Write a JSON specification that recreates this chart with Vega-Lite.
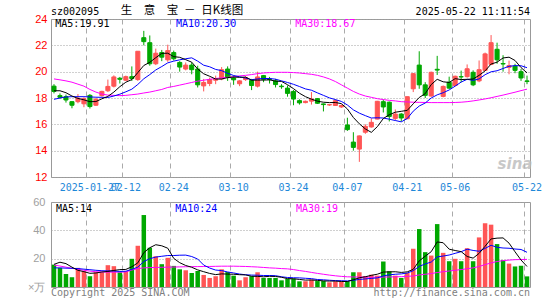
{
  "$schema": "https://vega.github.io/schema/vega-lite/v6.json",
  "padding": {"left": 0, "top": 4, "right": 0, "bottom": 0},
  "background": "white",
  "spacing": 0,
  "config": {
    "view": {"stroke": "#999999", "strokeWidth": 1},
    "axis": {"labelFont": "Liberation Sans", "labelFontSize": 11, "title": null, "labelOverlap": false}
  },
  "datasets": {
    "k": [
{"d":"2025-01-17","o":18.9,"h":19.05,"l":18.35,"c":18.5,"v":15.8,"m5":18.55,"m10":17.9,"m30":19.45,"vm5":16.0,"vm10":13.5,"vm30":15.5},
{"d":"2025-01-20","o":18.18,"h":18.35,"l":17.95,"c":18.05,"v":13.5,"m5":18.55,"m10":18.0,"m30":19.38,"vm5":17.5,"vm10":13.5,"vm30":14.8},
{"d":"2025-01-21","o":18.1,"h":18.26,"l":17.65,"c":17.85,"v":9.2,"m5":18.4,"m10":18.08,"m30":19.3,"vm5":16.5,"vm10":13.3,"vm30":14.0},
{"d":"2025-01-22","o":17.72,"h":17.75,"l":17.22,"c":17.45,"v":6.9,"m5":18.15,"m10":18.1,"m30":19.2,"vm5":14.0,"vm10":13.2,"vm30":13.2},
{"d":"2025-01-23","o":17.72,"h":18.3,"l":17.6,"c":17.98,"v":13.5,"m5":17.97,"m10":18.1,"m30":19.05,"vm5":11.78,"vm10":13.0,"vm30":12.5},
{"d":"2025-01-24","o":17.56,"h":18.05,"l":17.3,"c":17.95,"v":11.1,"m5":17.86,"m10":18.1,"m30":18.9,"vm5":10.84,"vm10":12.6,"vm30":11.8},
{"d":"2025-01-27","o":18.2,"h":18.3,"l":17.2,"c":17.35,"v":7.6,"m5":17.72,"m10":18.08,"m30":18.65,"vm5":9.66,"vm10":12.2,"vm30":11.2},
{"d":"2025-02-05","o":17.45,"h":18.0,"l":17.4,"c":17.9,"v":10.4,"m5":17.73,"m10":18.06,"m30":18.45,"vm5":9.9,"vm10":11.8,"vm30":10.8},
{"d":"2025-02-06","o":18.18,"h":18.55,"l":18.1,"c":18.5,"v":10.4,"m5":17.94,"m10":18.05,"m30":18.3,"vm5":10.6,"vm10":11.5,"vm30":10.6},
{"d":"2025-02-07","o":18.55,"h":19.4,"l":18.45,"c":18.88,"v":15.4,"m5":18.12,"m10":18.04,"m30":18.22,"vm5":10.98,"vm10":11.38,"vm30":10.5},
{"d":"2025-02-10","o":18.9,"h":19.72,"l":18.8,"c":19.6,"v":14.7,"m5":18.45,"m10":18.15,"m30":18.2,"vm5":11.7,"vm10":11.27,"vm30":10.5},
{"d":"2025-02-11","o":19.5,"h":19.6,"l":19.1,"c":19.42,"v":10.4,"m5":18.86,"m10":18.29,"m30":18.18,"vm5":12.26,"vm10":10.96,"vm30":10.5},
{"d":"2025-02-12","o":19.35,"h":19.7,"l":19.3,"c":19.62,"v":11.1,"m5":19.2,"m10":18.47,"m30":18.2,"vm5":12.4,"vm10":11.15,"vm30":10.6},
{"d":"2025-02-13","o":19.62,"h":20.4,"l":19.3,"c":19.48,"v":19.9,"m5":19.4,"m10":18.67,"m30":18.25,"vm5":14.3,"vm10":12.45,"vm30":12.0},
{"d":"2025-02-14","o":19.4,"h":21.55,"l":19.3,"c":21.55,"v":29.1,"m5":19.93,"m10":19.03,"m30":18.3,"vm5":17.04,"vm10":14.01,"vm30":13.0},
{"d":"2025-02-17","o":22.58,"h":23.1,"l":22.0,"c":22.28,"v":50.8,"m5":20.47,"m10":19.46,"m30":18.38,"vm5":24.26,"vm10":17.98,"vm30":13.5},
{"d":"2025-02-18","o":22.2,"h":22.75,"l":20.45,"c":20.6,"v":27.7,"m5":20.71,"m10":19.78,"m30":18.45,"vm5":27.72,"vm10":19.99,"vm30":13.7},
{"d":"2025-02-19","o":20.6,"h":21.75,"l":20.5,"c":21.4,"v":21.7,"m5":21.06,"m10":20.13,"m30":18.55,"vm5":29.84,"vm10":21.12,"vm30":13.8},
{"d":"2025-02-20","o":21.45,"h":21.65,"l":20.8,"c":21.1,"v":16.1,"m5":21.39,"m10":20.39,"m30":18.65,"vm5":29.08,"vm10":21.69,"vm30":13.9},
{"d":"2025-02-21","o":20.9,"h":22.05,"l":20.75,"c":21.6,"v":20.6,"m5":21.4,"m10":20.67,"m30":18.8,"vm5":27.38,"vm10":22.21,"vm30":14.0},
{"d":"2025-02-24","o":21.45,"h":21.6,"l":20.85,"c":20.98,"v":14.9,"m5":21.14,"m10":20.8,"m30":18.88,"vm5":20.2,"vm10":22.23,"vm30":14.1},
{"d":"2025-02-25","o":20.7,"h":20.8,"l":20.0,"c":20.35,"v":12.5,"m5":21.09,"m10":20.9,"m30":18.98,"vm5":17.16,"vm10":22.44,"vm30":14.2},
{"d":"2025-02-26","o":20.2,"h":20.7,"l":20.1,"c":20.5,"v":11.8,"m5":20.91,"m10":20.98,"m30":19.08,"vm5":15.18,"vm10":22.51,"vm30":14.3},
{"d":"2025-02-27","o":20.5,"h":20.7,"l":19.8,"c":20.15,"v":9.9,"m5":20.72,"m10":21.05,"m30":19.18,"vm5":13.94,"vm10":21.51,"vm30":14.35},
{"d":"2025-02-28","o":20.2,"h":20.45,"l":18.8,"c":19.0,"v":11.3,"m5":20.2,"m10":20.8,"m30":19.28,"vm5":12.08,"vm10":19.73,"vm30":14.4},
{"d":"2025-03-03","o":18.92,"h":19.45,"l":18.5,"c":19.18,"v":8.5,"m5":19.84,"m10":20.49,"m30":19.35,"vm5":10.8,"vm10":15.5,"vm30":14.45},
{"d":"2025-03-04","o":19.1,"h":19.55,"l":18.9,"c":19.4,"v":6.4,"m5":19.65,"m10":20.37,"m30":19.42,"vm5":9.58,"vm10":13.37,"vm30":14.5},
{"d":"2025-03-05","o":19.35,"h":19.7,"l":19.05,"c":19.45,"v":7.6,"m5":19.44,"m10":20.17,"m30":19.48,"vm5":8.74,"vm10":11.96,"vm30":14.6},
{"d":"2025-03-06","o":19.45,"h":20.35,"l":19.35,"c":20.15,"v":12.5,"m5":19.44,"m10":20.08,"m30":19.53,"vm5":9.26,"vm10":11.6,"vm30":14.7},
{"d":"2025-03-07","o":20.2,"h":20.4,"l":19.3,"c":19.55,"v":10.6,"m5":19.55,"m10":19.87,"m30":19.57,"vm5":9.12,"vm10":10.6,"vm30":14.7},
{"d":"2025-03-10","o":19.52,"h":19.7,"l":19.0,"c":19.38,"v":8.0,"m5":19.59,"m10":19.71,"m30":19.62,"vm5":9.02,"vm10":9.91,"vm30":14.7},
{"d":"2025-03-11","o":19.08,"h":19.35,"l":18.9,"c":19.3,"v":4.7,"m5":19.57,"m10":19.61,"m30":19.68,"vm5":8.68,"vm10":9.13,"vm30":14.6},
{"d":"2025-03-12","o":19.4,"h":19.65,"l":19.3,"c":19.55,"v":6.9,"m5":19.59,"m10":19.51,"m30":19.72,"vm5":8.54,"vm10":8.64,"vm30":14.5},
{"d":"2025-03-13","o":19.33,"h":19.45,"l":18.6,"c":18.95,"v":7.6,"m5":19.35,"m10":19.39,"m30":19.78,"vm5":7.56,"vm10":8.41,"vm30":14.3},
{"d":"2025-03-14","o":18.9,"h":20.0,"l":18.8,"c":19.6,"v":10.4,"m5":19.36,"m10":19.45,"m30":19.85,"vm5":7.52,"vm10":8.32,"vm30":14.1},
{"d":"2025-03-17","o":19.7,"h":19.75,"l":19.2,"c":19.42,"v":6.4,"m5":19.36,"m10":19.48,"m30":19.9,"vm5":7.2,"vm10":8.11,"vm30":13.8},
{"d":"2025-03-18","o":19.45,"h":19.6,"l":19.1,"c":19.4,"v":6.4,"m5":19.38,"m10":19.48,"m30":19.93,"vm5":7.54,"vm10":8.11,"vm30":13.5},
{"d":"2025-03-19","o":19.3,"h":19.45,"l":18.8,"c":19.02,"v":6.4,"m5":19.28,"m10":19.43,"m30":19.95,"vm5":7.44,"vm10":7.99,"vm30":13.3},
{"d":"2025-03-20","o":18.9,"h":19.05,"l":18.7,"c":18.86,"v":4.7,"m5":19.26,"m10":19.3,"m30":19.95,"vm5":6.86,"vm10":7.21,"vm30":13.0},
{"d":"2025-03-21","o":18.75,"h":18.95,"l":18.1,"c":18.35,"v":5.7,"m5":19.01,"m10":19.18,"m30":19.95,"vm5":5.92,"vm10":6.72,"vm30":12.8},
{"d":"2025-03-24","o":18.5,"h":18.6,"l":17.45,"c":17.92,"v":5.9,"m5":18.71,"m10":19.04,"m30":19.93,"vm5":5.82,"vm10":6.51,"vm30":12.3},
{"d":"2025-03-25","o":17.8,"h":17.9,"l":17.5,"c":17.63,"v":4.0,"m5":18.36,"m10":18.87,"m30":19.9,"vm5":5.34,"vm10":6.44,"vm30":11.6},
{"d":"2025-03-26","o":17.65,"h":17.8,"l":17.6,"c":17.75,"v":4.0,"m5":18.1,"m10":18.69,"m30":19.85,"vm5":4.86,"vm10":6.15,"vm30":11.0},
{"d":"2025-03-27","o":17.76,"h":18.45,"l":17.5,"c":17.92,"v":5.2,"m5":17.91,"m10":18.59,"m30":19.8,"vm5":4.96,"vm10":5.91,"vm30":10.3},
{"d":"2025-03-28","o":17.95,"h":18.0,"l":17.55,"c":17.6,"v":4.2,"m5":17.76,"m10":18.39,"m30":19.72,"vm5":4.66,"vm10":5.29,"vm30":9.6},
{"d":"2025-03-31","o":17.55,"h":17.58,"l":16.98,"c":17.5,"v":4.2,"m5":17.68,"m10":18.2,"m30":19.6,"vm5":4.32,"vm10":5.07,"vm30":9.0},
{"d":"2025-04-01","o":17.47,"h":17.55,"l":17.4,"c":17.5,"v":3.3,"m5":17.65,"m10":18.01,"m30":19.45,"vm5":4.18,"vm10":4.76,"vm30":8.4},
{"d":"2025-04-02","o":17.43,"h":17.9,"l":17.4,"c":17.8,"v":4.0,"m5":17.66,"m10":17.88,"m30":19.25,"vm5":4.18,"vm10":4.52,"vm30":7.9},
{"d":"2025-04-03","o":17.32,"h":17.5,"l":17.25,"c":17.43,"v":3.8,"m5":17.57,"m10":17.74,"m30":19.0,"vm5":3.9,"vm10":4.43,"vm30":7.5},
{"d":"2025-04-07","o":15.95,"h":16.5,"l":15.5,"c":15.6,"v":4.0,"m5":17.17,"m10":17.47,"m30":18.75,"vm5":3.86,"vm10":4.26,"vm30":7.2},
{"d":"2025-04-08","o":14.65,"h":15.4,"l":14.0,"c":14.25,"v":10.4,"m5":16.52,"m10":17.1,"m30":18.5,"vm5":5.1,"vm10":4.71,"vm30":7.1},
{"d":"2025-04-09","o":14.12,"h":15.15,"l":13.15,"c":15.12,"v":10.4,"m5":16.04,"m10":16.85,"m30":18.3,"vm5":6.52,"vm10":5.35,"vm30":7.0},
{"d":"2025-04-10","o":15.4,"h":16.0,"l":15.28,"c":15.85,"v":7.6,"m5":15.65,"m10":16.66,"m30":18.15,"vm5":7.24,"vm10":5.71,"vm30":7.0},
{"d":"2025-04-11","o":15.8,"h":16.45,"l":15.75,"c":16.15,"v":8.7,"m5":15.39,"m10":16.48,"m30":18.05,"vm5":8.22,"vm10":6.06,"vm30":6.9},
{"d":"2025-04-14","o":16.4,"h":17.78,"l":16.38,"c":17.75,"v":8.0,"m5":15.82,"m10":16.5,"m30":17.95,"vm5":9.02,"vm10":6.44,"vm30":6.9},
{"d":"2025-04-15","o":17.72,"h":17.88,"l":16.9,"c":17.32,"v":18.0,"m5":16.44,"m10":16.48,"m30":17.88,"vm5":10.54,"vm10":7.82,"vm30":7.0},
{"d":"2025-04-16","o":17.68,"h":17.73,"l":16.22,"c":16.6,"v":11.1,"m5":16.73,"m10":16.39,"m30":17.82,"vm5":10.68,"vm10":8.6,"vm30":7.1},
{"d":"2025-04-17","o":16.45,"h":17.13,"l":16.3,"c":16.78,"v":8.0,"m5":16.92,"m10":16.29,"m30":17.78,"vm5":10.76,"vm10":9.0,"vm30":7.2},
{"d":"2025-04-18","o":16.78,"h":16.85,"l":16.22,"c":16.48,"v":6.4,"m5":16.99,"m10":16.19,"m30":17.72,"vm5":10.3,"vm10":9.26,"vm30":7.3},
{"d":"2025-04-21","o":16.42,"h":18.1,"l":16.4,"c":18.1,"v":9.9,"m5":17.06,"m10":16.44,"m30":17.7,"vm5":10.68,"vm10":9.85,"vm30":7.5},
{"d":"2025-04-22","o":18.7,"h":19.9,"l":18.45,"c":19.85,"v":27.0,"m5":17.56,"m10":17.0,"m30":17.68,"vm5":12.48,"vm10":11.51,"vm30":7.8},
{"d":"2025-04-23","o":20.5,"h":21.55,"l":18.7,"c":19.0,"v":40.9,"m5":18.04,"m10":17.39,"m30":17.67,"vm5":18.44,"vm10":14.56,"vm30":8.5},
{"d":"2025-04-24","o":19.0,"h":19.2,"l":18.0,"c":18.2,"v":24.6,"m5":18.33,"m10":17.62,"m30":17.66,"vm5":21.76,"vm10":16.26,"vm30":9.0},
{"d":"2025-04-25","o":18.15,"h":20.0,"l":18.1,"c":19.95,"v":22.2,"m5":19.02,"m10":18.0,"m30":17.65,"vm5":24.92,"vm10":17.61,"vm30":9.5},
{"d":"2025-04-28","o":20.18,"h":21.2,"l":19.75,"c":20.12,"v":44.4,"m5":19.42,"m10":18.24,"m30":17.65,"vm5":31.82,"vm10":21.25,"vm30":10.2},
{"d":"2025-04-29","o":18.12,"h":18.95,"l":18.05,"c":18.88,"v":24.1,"m5":19.23,"m10":18.4,"m30":17.65,"vm5":31.24,"vm10":21.86,"vm30":10.8},
{"d":"2025-04-30","o":19.2,"h":19.62,"l":18.7,"c":18.75,"v":18.2,"m5":19.18,"m10":18.61,"m30":17.65,"vm5":26.7,"vm10":22.57,"vm30":11.3},
{"d":"2025-05-06","o":18.95,"h":19.7,"l":18.9,"c":19.65,"v":19.9,"m5":19.47,"m10":18.9,"m30":17.66,"vm5":25.76,"vm10":23.76,"vm30":11.8},
{"d":"2025-05-07","o":19.62,"h":20.08,"l":19.2,"c":19.6,"v":18.2,"m5":19.4,"m10":19.21,"m30":17.68,"vm5":24.96,"vm10":24.94,"vm30":12.3},
{"d":"2025-05-08","o":19.62,"h":20.55,"l":19.55,"c":20.22,"v":27.4,"m5":19.42,"m10":19.42,"m30":17.72,"vm5":21.56,"vm10":26.69,"vm30":12.9},
{"d":"2025-05-09","o":19.95,"h":20.1,"l":18.9,"c":19.0,"v":18.2,"m5":19.44,"m10":19.34,"m30":17.78,"vm5":20.38,"vm10":25.81,"vm30":13.5},
{"d":"2025-05-12","o":19.3,"h":20.85,"l":19.2,"c":20.15,"v":35.0,"m5":19.72,"m10":19.45,"m30":17.85,"vm5":23.74,"vm10":25.22,"vm30":14.5},
{"d":"2025-05-13","o":20.1,"h":21.45,"l":20.05,"c":21.35,"v":45.0,"m5":20.06,"m10":19.77,"m30":17.93,"vm5":28.76,"vm10":27.26,"vm30":15.8},
{"d":"2025-05-14","o":20.55,"h":22.78,"l":20.5,"c":22.2,"v":44.0,"m5":20.58,"m10":19.99,"m30":18.02,"vm5":33.92,"vm10":29.44,"vm30":17.0},
{"d":"2025-05-15","o":21.7,"h":22.2,"l":20.6,"c":20.9,"v":30.3,"m5":20.72,"m10":20.07,"m30":18.12,"vm5":34.5,"vm10":28.03,"vm30":18.0},
{"d":"2025-05-16","o":20.62,"h":21.25,"l":20.0,"c":20.58,"v":19.0,"m5":21.04,"m10":20.24,"m30":18.22,"vm5":34.66,"vm10":27.52,"vm30":18.6},
{"d":"2025-05-19","o":20.33,"h":20.84,"l":19.8,"c":20.46,"v":16.5,"m5":21.1,"m10":20.41,"m30":18.33,"vm5":30.96,"vm10":27.35,"vm30":19.0},
{"d":"2025-05-20","o":20.42,"h":20.6,"l":19.88,"c":20.1,"v":14.5,"m5":20.85,"m10":20.46,"m30":18.44,"vm5":24.86,"vm10":26.81,"vm30":19.3},
{"d":"2025-05-21","o":20.0,"h":20.2,"l":19.3,"c":19.52,"v":15.0,"m5":20.31,"m10":20.45,"m30":18.56,"vm5":19.06,"vm10":26.49,"vm30":19.4},
{"d":"2025-05-22","o":19.3,"h":19.7,"l":19.05,"c":19.25,"v":7.5,"m5":19.91,"m10":20.3,"m30":18.67,"vm5":14.5,"vm10":24.5,"vm30":19.5}
    ]
  },
  "vconcat": [
    {
      "width": 479,
      "height": 158,
      "data": {"name": "k"},
      "encoding": {
        "x": {
          "field": "d", "type": "ordinal",
          "scale": {"paddingInner": 0, "paddingOuter": 0},
          "axis": {
            "values": ["2025-01-27","2025-02-12","2025-02-24","2025-03-10","2025-03-24","2025-04-07","2025-04-21","2025-05-06","2025-05-22"],
            "bandPosition": 0, "grid": true, "gridDash": [5, 4], "gridColor": "#aaaaaa",
            "ticks": false, "domain": false, "labelAngle": 0, "labelColor": "#1e88d8",
            "labelFont": "DejaVu Sans Mono", "labelFontSize": 10, "labelPadding": 5, "labelBaseline": "top",
            "labelOverlap": false, "labelExpr": "datum.value == '2025-01-27' ? datum.value : substring(datum.value, 5)",
            "title": null, "minExtent": 17, "maxExtent": 17
          }
        }
      },
      "layer": [
        {
          "mark": {"type": "rule", "strokeWidth": 1},
          "encoding": {
            "y": {"field": "l", "type": "quantitative", "scale": {"domain": [12, 24], "nice": false, "zero": false},
              "axis": {"values": [12, 14, 16, 18, 20, 22, 24], "tickCount": 7, "grid": true, "gridDash": [1, 2], "gridColor": "#a0a0a0",
                "ticks": false, "domain": false, "labelColor": "#ff0000", "labelPadding": 4, "labelFlush": false, "labelOverlap": false,
                "title": null, "minExtent": 50, "maxExtent": 50}},
            "y2": {"field": "h"},
            "color": {"condition": {"test": "datum.c >= datum.o", "value": "#ff5555"}, "value": "#00a800"}
          }
        },
        {
          "mark": {"type": "bar", "width": {"band": 0.68}, "strokeWidth": 1},
          "encoding": {
            "y": {"field": "o", "type": "quantitative", "scale": {"domain": [12, 24], "nice": false, "zero": false},
              "axis": {"values": [12, 14, 16, 18, 20, 22, 24], "tickCount": 7, "grid": true, "gridDash": [1, 2], "gridColor": "#a0a0a0",
                "ticks": false, "domain": false, "labelColor": "#ff0000", "labelPadding": 4, "labelFlush": false, "labelOverlap": false,
                "title": null, "minExtent": 50, "maxExtent": 50}},
            "y2": {"field": "c"},
            "color": {"condition": {"test": "datum.c >= datum.o", "value": "#ff5555"}, "value": "#00a800"},
            "stroke": {"condition": {"test": "datum.c >= datum.o", "value": "#ff5555"}, "value": "#00a800"}
          }
        },
        {
          "mark": {"type": "line", "color": "#ff00ff", "strokeWidth": 1},
          "encoding": {"y": {"field": "m30", "type": "quantitative", "scale": {"domain": [12, 24], "nice": false, "zero": false},
              "axis": {"values": [12, 14, 16, 18, 20, 22, 24], "tickCount": 7, "grid": true, "gridDash": [1, 2], "gridColor": "#a0a0a0",
                "ticks": false, "domain": false, "labelColor": "#ff0000", "labelPadding": 4, "labelFlush": false, "labelOverlap": false,
                "title": null, "minExtent": 50, "maxExtent": 50}}}
        },
        {
          "mark": {"type": "line", "color": "#0000ff", "strokeWidth": 1},
          "encoding": {"y": {"field": "m10", "type": "quantitative", "scale": {"domain": [12, 24], "nice": false, "zero": false},
              "axis": {"values": [12, 14, 16, 18, 20, 22, 24], "tickCount": 7, "grid": true, "gridDash": [1, 2], "gridColor": "#a0a0a0",
                "ticks": false, "domain": false, "labelColor": "#ff0000", "labelPadding": 4, "labelFlush": false, "labelOverlap": false,
                "title": null, "minExtent": 50, "maxExtent": 50}}}
        },
        {
          "mark": {"type": "line", "color": "#000000", "strokeWidth": 1},
          "encoding": {"y": {"field": "m5", "type": "quantitative", "scale": {"domain": [12, 24], "nice": false, "zero": false},
              "axis": {"values": [12, 14, 16, 18, 20, 22, 24], "tickCount": 7, "grid": true, "gridDash": [1, 2], "gridColor": "#a0a0a0",
                "ticks": false, "domain": false, "labelColor": "#ff0000", "labelPadding": 4, "labelFlush": false, "labelOverlap": false,
                "title": null, "minExtent": 50, "maxExtent": 50}}}
        },
        {
          "data": {"values": [{}]},
          "mark": {"type": "text", "align": "left", "baseline": "middle", "dx": 1.3, "dy": 5.4, "font": "DejaVu Sans Mono", "fontSize": 10, "color": "#000000"},
          "encoding": {"x": {"datum": "2025-01-17", "type": "ordinal"}, "y": {"datum": 24, "type": "quantitative"}, "text": {"value": "MA5:19.91"}}
        },
        {
          "data": {"values": [{}]},
          "mark": {"type": "text", "align": "left", "baseline": "middle", "dx": 2.2, "dy": 5.4, "font": "DejaVu Sans Mono", "fontSize": 10, "color": "#0000ff"},
          "encoding": {"x": {"datum": "2025-02-24", "type": "ordinal"}, "y": {"datum": 24, "type": "quantitative"}, "text": {"value": "MA10:20.30"}}
        },
        {
          "data": {"values": [{}]},
          "mark": {"type": "text", "align": "left", "baseline": "middle", "dx": 1.7, "dy": 5.4, "font": "DejaVu Sans Mono", "fontSize": 10, "color": "#ff00ff"},
          "encoding": {"x": {"datum": "2025-03-24", "type": "ordinal"}, "y": {"datum": 24, "type": "quantitative"}, "text": {"value": "MA30:18.67"}}
        },
        {
          "data": {"values": [{}]},
          "mark": {"type": "text", "align": "left", "baseline": "middle", "dx": -3, "dy": -7, "font": "DejaVu Sans Mono", "fontSize": 10, "color": "#000000"},
          "encoding": {"x": {"datum": "2025-01-17", "type": "ordinal"}, "y": {"datum": 24, "type": "quantitative"}, "text": {"value": "sz002095"}}
        },
        {
          "data": {"values": [{}]},
          "mark": {"type": "text", "align": "left", "baseline": "middle", "dx": 1, "dy": -8.5, "font": "Noto Sans CJK SC", "fontSize": 11.5, "color": "#000000"},
          "encoding": {"x": {"datum": "2025-02-11", "type": "ordinal"}, "y": {"datum": 24, "type": "quantitative"}, "text": {"value": "生\u3000意\u3000宝\u2002－\u2002日K线图"}}
        },
        {
          "data": {"values": [{}]},
          "mark": {"type": "text", "align": "right", "baseline": "middle", "dx": 3, "dy": -7, "font": "DejaVu Sans Mono", "fontSize": 10, "color": "#000000"},
          "encoding": {"x": {"datum": "2025-05-22", "type": "ordinal"}, "y": {"datum": 24, "type": "quantitative"}, "text": {"value": "2025-05-22 11:11:54"}}
        },
        {
          "data": {"values": [{}]},
          "mark": {"type": "text", "align": "center", "baseline": "middle", "font": "DejaVu Sans", "fontSize": 15, "fontStyle": "italic", "fontWeight": "bold", "color": "#bbbbbb", "opacity": 0.8},
          "encoding": {"x": {"datum": "2025-05-20", "type": "ordinal"}, "y": {"datum": 13.0, "type": "quantitative"}, "text": {"value": "sina"}}
        }
      ]
    },
    {
      "width": 479,
      "height": 85,
      "data": {"name": "k"},
      "encoding": {
        "x": {
          "field": "d", "type": "ordinal",
          "scale": {"paddingInner": 0, "paddingOuter": 0},
          "axis": {
            "values": ["2025-01-27","2025-02-12","2025-02-24","2025-03-10","2025-03-24","2025-04-07","2025-04-21","2025-05-06","2025-05-22"],
            "bandPosition": 0, "grid": true, "gridDash": [5, 4], "gridColor": "#aaaaaa",
            "ticks": false, "domain": false, "labels": false, "title": null, "minExtent": 0, "maxExtent": 0
          }
        }
      },
      "layer": [
        {
          "mark": {"type": "bar", "width": {"band": 0.75}},
          "encoding": {
            "y": {"field": "v", "type": "quantitative", "scale": {"domain": [0, 60], "nice": false},
              "axis": {"values": [0, 20, 40, 60], "tickCount": 4, "grid": true, "gridDash": [1, 2], "gridColor": "#a0a0a0",
                "ticks": false, "domain": false, "labelColor": "#a0a0a0", "labelPadding": 6, "labelFlush": false, "labelOverlap": false,
                "labelExpr": "datum.value == 0 ? '×万' : datum.label",
                "title": null, "minExtent": 50, "maxExtent": 50}},
            "color": {"condition": {"test": "datum.c >= datum.o", "value": "#ff5555"}, "value": "#00a800"}
          }
        },
        {
          "mark": {"type": "line", "color": "#ff00ff", "strokeWidth": 1},
          "encoding": {"y": {"field": "vm30", "type": "quantitative", "scale": {"domain": [0, 60], "nice": false},
              "axis": {"values": [0, 20, 40, 60], "tickCount": 4, "grid": true, "gridDash": [1, 2], "gridColor": "#a0a0a0",
                "ticks": false, "domain": false, "labelColor": "#a0a0a0", "labelPadding": 6, "labelFlush": false, "labelOverlap": false,
                "labelExpr": "datum.value == 0 ? '×万' : datum.label",
                "title": null, "minExtent": 50, "maxExtent": 50}}}
        },
        {
          "mark": {"type": "line", "color": "#0000ff", "strokeWidth": 1},
          "encoding": {"y": {"field": "vm10", "type": "quantitative", "scale": {"domain": [0, 60], "nice": false},
              "axis": {"values": [0, 20, 40, 60], "tickCount": 4, "grid": true, "gridDash": [1, 2], "gridColor": "#a0a0a0",
                "ticks": false, "domain": false, "labelColor": "#a0a0a0", "labelPadding": 6, "labelFlush": false, "labelOverlap": false,
                "labelExpr": "datum.value == 0 ? '×万' : datum.label",
                "title": null, "minExtent": 50, "maxExtent": 50}}}
        },
        {
          "mark": {"type": "line", "color": "#000000", "strokeWidth": 1},
          "encoding": {"y": {"field": "vm5", "type": "quantitative", "scale": {"domain": [0, 60], "nice": false},
              "axis": {"values": [0, 20, 40, 60], "tickCount": 4, "grid": true, "gridDash": [1, 2], "gridColor": "#a0a0a0",
                "ticks": false, "domain": false, "labelColor": "#a0a0a0", "labelPadding": 6, "labelFlush": false, "labelOverlap": false,
                "labelExpr": "datum.value == 0 ? '×万' : datum.label",
                "title": null, "minExtent": 50, "maxExtent": 50}}}
        },
        {
          "data": {"values": [{}]},
          "mark": {"type": "text", "align": "left", "baseline": "middle", "dx": 2, "dy": 6.5, "font": "DejaVu Sans Mono", "fontSize": 10, "color": "#000000"},
          "encoding": {"x": {"datum": "2025-01-17", "type": "ordinal"}, "y": {"datum": 60, "type": "quantitative"}, "text": {"value": "MA5:14"}}
        },
        {
          "data": {"values": [{}]},
          "mark": {"type": "text", "align": "left", "baseline": "middle", "dx": 1.5, "dy": 6.5, "font": "DejaVu Sans Mono", "fontSize": 10, "color": "#0000ff"},
          "encoding": {"x": {"datum": "2025-02-24", "type": "ordinal"}, "y": {"datum": 60, "type": "quantitative"}, "text": {"value": "MA10:24"}}
        },
        {
          "data": {"values": [{}]},
          "mark": {"type": "text", "align": "left", "baseline": "middle", "dx": 2.4, "dy": 6.5, "font": "DejaVu Sans Mono", "fontSize": 10, "color": "#ff00ff"},
          "encoding": {"x": {"datum": "2025-03-24", "type": "ordinal"}, "y": {"datum": 60, "type": "quantitative"}, "text": {"value": "MA30:19"}}
        },
        {
          "data": {"values": [{}]},
          "mark": {"type": "text", "align": "left", "baseline": "alphabetic", "dx": -3, "dy": 8.6, "font": "DejaVu Sans Mono", "fontSize": 10, "color": "#808080"},
          "encoding": {"x": {"datum": "2025-01-17", "type": "ordinal"}, "y": {"datum": 0, "type": "quantitative"}, "text": {"value": "Copyright 2025 SINA.COM"}}
        },
        {
          "data": {"values": [{}]},
          "mark": {"type": "text", "align": "right", "baseline": "alphabetic", "dx": 3, "dy": 8.6, "font": "DejaVu Sans Mono", "fontSize": 10, "color": "#808080"},
          "encoding": {"x": {"datum": "2025-05-22", "type": "ordinal"}, "y": {"datum": 0, "type": "quantitative"}, "text": {"value": "http://finance.sina.com.cn"}}
        }
      ]
    }
  ]
}
